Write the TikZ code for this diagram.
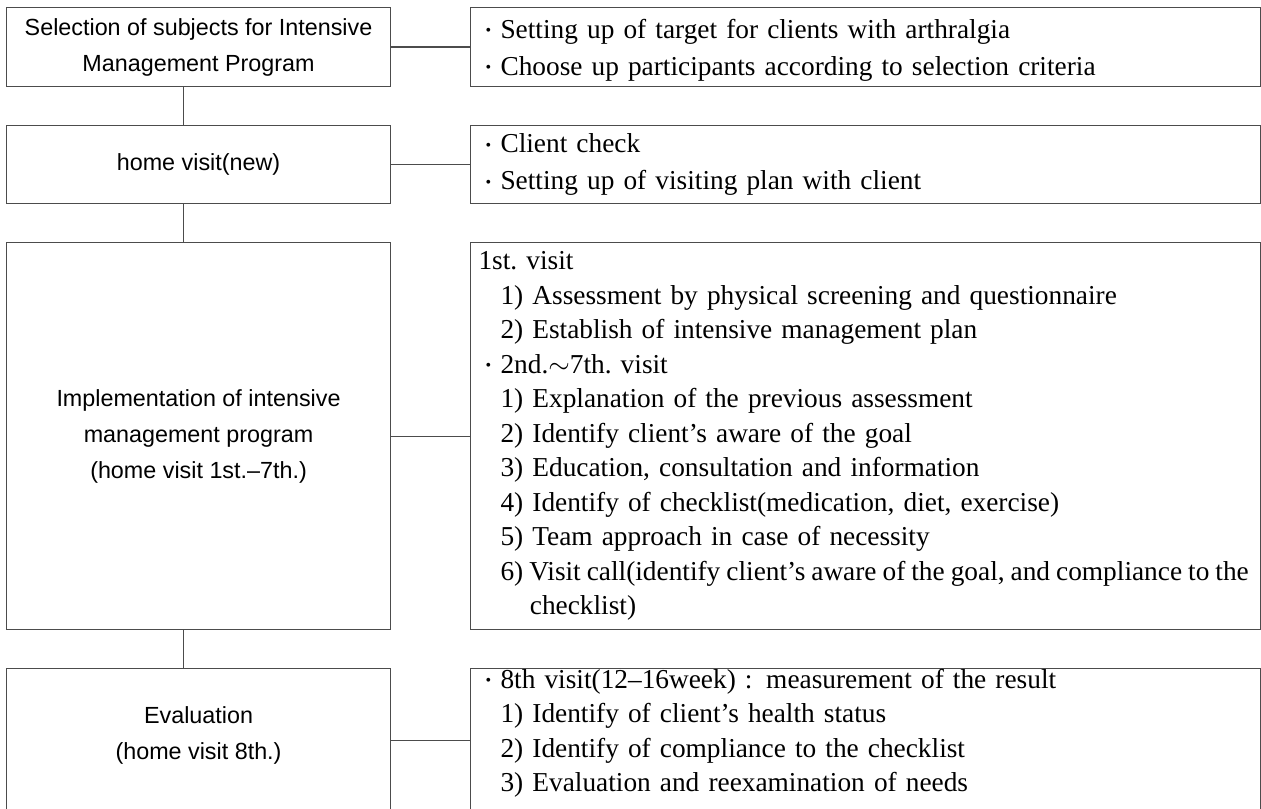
\documentclass[tikz,border=0pt]{standalone}
\usepackage{fontspec}
\setmainfont{Liberation Serif}
\setsansfont{Liberation Sans}
\newcommand{\bulletmark}{\hspace*{5.25pt}\makebox[11.25pt][l]{\raisebox{1.8pt}{\fontsize{12}{12}\selectfont\textbullet}}}
\newcommand{\numindent}{\hspace*{16.5pt}}
\newcommand{\contindent}{\hspace*{38.5pt}}
\begin{document}
\begin{tikzpicture}[
  x=0.75pt, y=-0.75pt,
  box/.style={draw=black!70,line width=0.8pt,anchor=north west,inner sep=0pt},
  stage/.style={box,minimum width=288pt,align=center,font=\sffamily\fontsize{17.5}{27}\selectfont},
  note/.style={box,minimum width=592.5pt,text width=580.5pt,inner xsep=6pt,align=left,font=\fontsize{20.5}{25.875}\selectfont},
  shortnote/.style={note,font=\fontsize{20.5}{27.75}\selectfont},
  link/.style={draw=black!70,line width=0.8pt}
]
\useasboundingbox (0,0) rectangle (1261,809);
\clip (0,0) rectangle (1261,809);
\node[stage,minimum height=59.25pt] (sel) at (6,7) {Selection of subjects for Intensive\\Management Program};
\node[stage,minimum height=58.5pt] (home) at (6,125) {home visit(new)};
\node[stage,minimum height=290.25pt] (impl) at (6,242) {Implementation of intensive\\management program\\(home visit 1st.--7th.)};
\node[stage,minimum height=108pt,text depth=11pt] (eval) at (6,668) {Evaluation\\(home visit 8th.)};

\node[shortnote,minimum height=59.25pt,text height=19pt] (selnote) at (470,7) {%
  \bulletmark Setting up of target for clients with arthralgia\\
  \bulletmark Choose up participants according to selection criteria};
\node[shortnote,minimum height=58.5pt] (homenote) at (470,125) {%
  \bulletmark Client check\\
  \bulletmark Setting up of visiting plan with client};
\node[note,minimum height=290.25pt] (implnote) at (470,242) {%
  1st.\ visit\\
  \numindent 1) Assessment by physical screening and questionnaire\\
  \numindent 2) Establish of intensive management plan\\
  \bulletmark 2nd.$\sim$7th.\ visit\\
  \numindent 1) Explanation of the previous assessment\\
  \numindent 2) Identify client’s aware of the goal\\
  \numindent 3) Education, consultation and information\\
  \numindent 4) Identify of checklist(medication, diet, exercise)\\
  \numindent 5) Team approach in case of necessity\\
  \numindent \mbox{\spaceskip=4.5pt\relax 6) Visit call(identify client’s aware of the goal, and compliance to the}\\
  \contindent checklist)};
\node[note,minimum height=108pt,text depth=93pt] (evalnote) at (470,668) {%
  \bulletmark 8th visit(12--16week) : measurement of the result\\
  \numindent 1) Identify of client’s health status\\
  \numindent 2) Identify of compliance to the checklist\\
  \numindent 3) Evaluation and reexamination of needs};

\draw[link] (sel.east) -- (sel.east -| selnote.west);
\draw[link] (home.east) -- (home.east -| homenote.west);
\draw[link] (impl.east) -- (impl.east -| implnote.west);
\draw[link] (eval.east) -- (eval.east -| evalnote.west);
\draw[link] ([xshift=-11.25pt]sel.south) -- ([xshift=-11.25pt]home.north);
\draw[link] ([xshift=-11.25pt]home.south) -- ([xshift=-11.25pt]impl.north);
\draw[link] ([xshift=-11.25pt]impl.south) -- ([xshift=-11.25pt]eval.north);
\end{tikzpicture}
\end{document}
